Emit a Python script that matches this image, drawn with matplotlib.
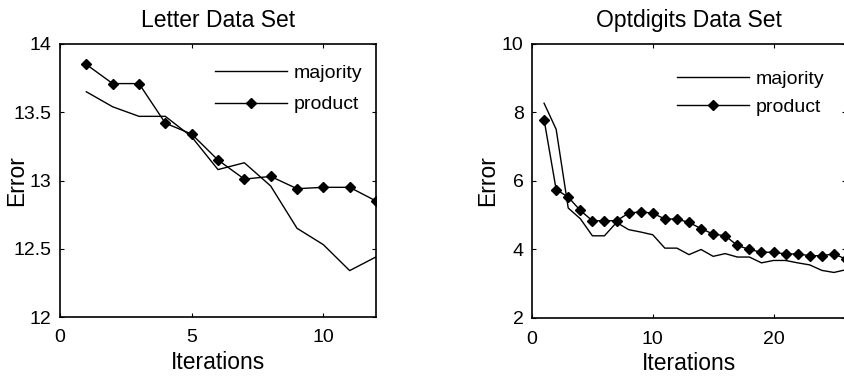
import numpy as np
import matplotlib
matplotlib.use("Agg")
import matplotlib.pyplot as plt

plt.rcParams['font.family'] = ['Liberation Sans', 'DejaVu Sans']

# Letter data set
letter_iter = [1, 2, 3, 4, 5, 6, 7, 8, 9, 10, 11, 12]
letter_majority = [13.65, 13.54, 13.47, 13.47, 13.32, 13.08, 13.13, 12.96, 12.65, 12.53, 12.34, 12.44]
letter_product = [13.85, 13.71, 13.71, 13.42, 13.34, 13.15, 13.01, 13.03, 12.94, 12.95, 12.95, 12.85]

# Optdigits data set
opt_iter = list(range(1, 27))
opt_majority = [8.27, 7.51, 5.21, 4.90, 4.40, 4.40, 4.79, 4.58, 4.51, 4.43, 4.04, 4.04, 3.85,
                4.00, 3.80, 3.88, 3.78, 3.78, 3.61, 3.68, 3.68, 3.61, 3.55, 3.39, 3.33, 3.41]
opt_product = [7.79, 5.75, 5.53, 5.14, 4.84, 4.84, 4.84, 5.06, 5.10, 5.06, 4.89, 4.89, 4.79,
               4.61, 4.45, 4.40, 4.12, 4.00, 3.92, 3.92, 3.87, 3.87, 3.82, 3.82, 3.87, 3.72]


def draw(ax, x, maj, prod, title, xlim, ylim, xticks, yticks, ylabels,
         leg_anchor, leg_spacing, ylab_x):
    ax.plot(x, maj, color='black', linewidth=1.0, label='majority')
    ax.plot(x, prod, color='black', linewidth=1.0, marker='D', markersize=5.5,
            label='product')
    ax.set_xlim(*xlim)
    ax.set_ylim(*ylim)
    ax.set_xticks(xticks)
    ax.set_yticks(yticks)
    ax.set_yticklabels(ylabels)
    ax.tick_params(direction='in', top=True, right=True, length=3, labelsize=14)
    ax.tick_params(axis='x', pad=9)
    ax.tick_params(axis='y', pad=6)
    ax.set_title(title, fontsize=16.5, pad=12)
    ax.set_xlabel('Iterations', fontsize=16.5, labelpad=3)
    ax.set_ylabel('Error', fontsize=16.5)
    ax.yaxis.set_label_coords(ylab_x, 0.5)
    for s in ax.spines.values():
        s.set_linewidth(1.2)
    ax.legend(loc='upper left', bbox_to_anchor=leg_anchor, frameon=False, fontsize=14,
              borderpad=0, borderaxespad=0, handlelength=3.7, handletextpad=0.35,
              labelspacing=leg_spacing)


fig = plt.figure(figsize=(8.44, 3.8), dpi=100)
ax1 = fig.add_axes([60 / 844, 63 / 380, 316 / 844, 273 / 380])
ax2 = fig.add_axes([532 / 844, 62 / 380, 314 / 844, 274 / 380])

draw(ax1, letter_iter, letter_majority, letter_product, 'Letter Data Set',
     (0, 12), (12, 14), [0, 5, 10], [12, 12.5, 13, 13.5, 14],
     ['12', '12.5', '13', '13.5', '14'], (0.49, 0.925), 0.7, -0.1)
draw(ax2, opt_iter, opt_majority, opt_product, 'Optdigits Data Set',
     (0, 26), (2, 10), [0, 10, 20], [2, 4, 6, 8, 10],
     ['2', '4', '6', '8', '10'], (0.462, 0.905), 0.55, -0.105)

fig.savefig('out.png', dpi=100)
